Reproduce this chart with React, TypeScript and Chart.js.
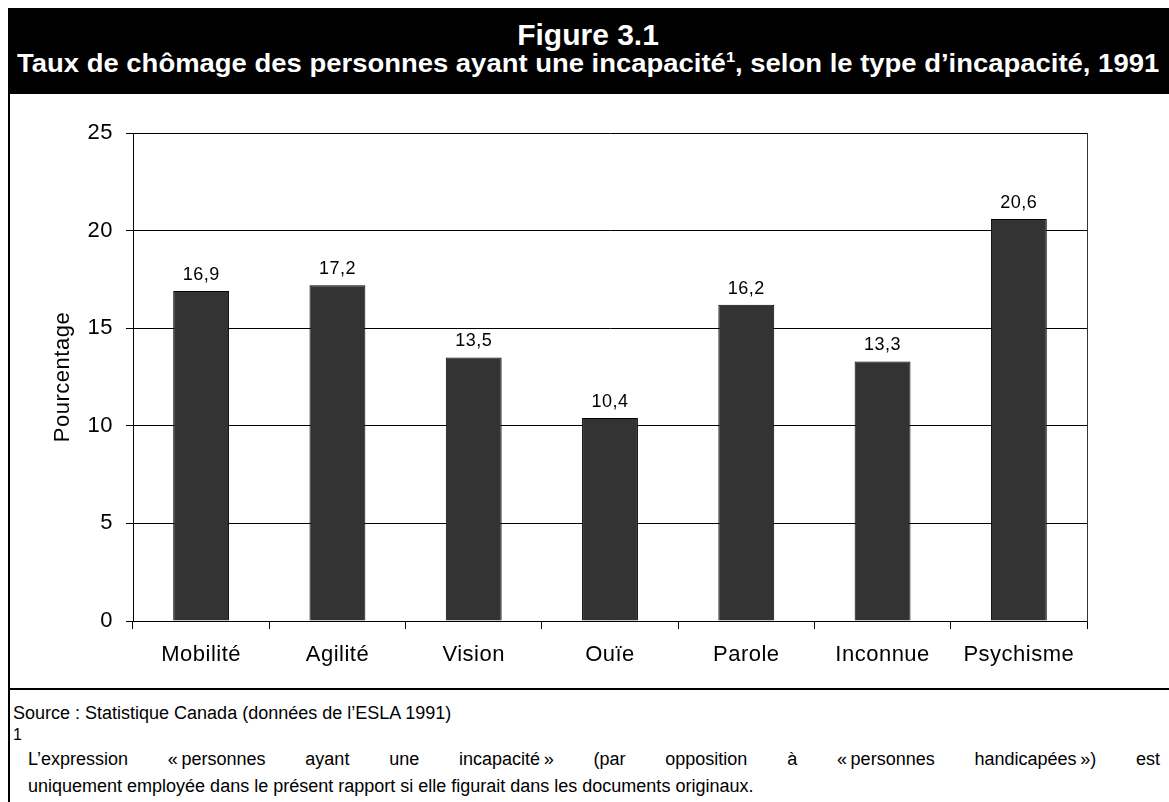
import React, { useEffect, useRef } from 'react';
import { Chart, registerables } from 'chart.js';

Chart.register(...registerables);

// ---- data ----
const categories = ['Mobilité', 'Agilité', 'Vision', 'Ouïe', 'Parole', 'Inconnue', 'Psychisme'];
const rates = [16.9, 17.2, 13.5, 10.4, 16.2, 13.3, 20.6];
const yTicks = [0, 5, 10, 15, 20, 25];
const yAxisTitle = 'Pourcentage';
const figureNumber = 'Figure 3.1';
const titleBefore = 'Taux de chômage des personnes ayant une incapacité';
const titleAfter = ', selon le type d’incapacité, 1991';
const sourceText = 'Source : Statistique Canada (données de l’ESLA 1991)';
const noteLine1 = 'L’expression «\u202Fpersonnes ayant une incapacité\u202F» (par opposition à «\u202Fpersonnes handicapées\u202F») est';
const noteLine2 = 'uniquement employée dans le présent rapport si elle figurait dans les documents originaux.';

const FONT = '"Liberation Sans", Arial, Helvetica, sans-serif';

export default function App() {
  const ref = useRef<HTMLCanvasElement>(null);

  useEffect(() => {
    const canvas = ref.current!;
    const spacing = {
      id: 'spacing',
      beforeUpdate(chart: any) { chart.ctx.letterSpacing = '0.5px'; },
      beforeDraw(chart: any) { chart.ctx.letterSpacing = '0.5px'; },
    };
    const valueLabels = {
      id: 'valueLabels',
      afterDatasetsDraw(chart: any) {
        const ctx = chart.ctx;
        const meta = chart.getDatasetMeta(0);
        ctx.save();
        ctx.font = `18px ${FONT}`;
        ctx.fillStyle = '#000';
        ctx.textAlign = 'center';
        ctx.textBaseline = 'alphabetic';
        meta.data.forEach((el: any, i: number) => {
          ctx.fillText(rates[i].toFixed(1).replace('.', ','), el.x, el.y - 11);
        });
        ctx.restore();
      },
    };
    const chart = new Chart(canvas, {
      type: 'bar',
      data: {
        labels: categories,
        datasets: [
          {
            data: rates,
            backgroundColor: '#333333',
            borderColor: '#000000',
            borderWidth: 1,
            barPercentage: 0.41,
            categoryPercentage: 1,
          },
        ],
      },
      options: {
        animation: false,
        responsive: false,
        maintainAspectRatio: false,
        layout: { padding: { top: 39, right: 82, left: 0, bottom: 0 } },
        plugins: {
          legend: { display: false },
          tooltip: { enabled: false },
          title: { display: false },
        },
        scales: {
          x: {
            offset: true,
            grid: { display: true, drawOnChartArea: false, drawTicks: true, tickLength: 8, color: '#000', offset: true },
            border: { color: '#000', width: 1 },
            ticks: { color: '#000', font: { family: FONT, size: 22 }, padding: 13, maxRotation: 0, autoSkip: false },
            afterFit: (s: any) => { s.height = 67; },
          },
          y: {
            min: 0,
            max: 25,
            afterBuildTicks: (s: any) => { s.ticks = yTicks.map((v) => ({ value: v })); },
            ticks: { color: '#000', font: { family: FONT, size: 22 }, padding: 13 },
            grid: { color: '#000', tickLength: 7, lineWidth: 1 },
            border: { color: '#000', width: 1 },
            title: {
              display: true,
              text: yAxisTitle,
              color: '#000',
              font: { family: FONT, size: 22 },
              padding: { top: 40, bottom: 0 },
            },
            afterFit: (s: any) => { s.width = 123; },
          },
          y2: {
            position: 'right',
            min: 0,
            max: 25,
            grid: { display: false },
            ticks: { display: false },
            border: { display: true, color: '#333', width: 1 },
            afterFit: (s: any) => { s.width = 0; },
          },
        },
      } as any,
      plugins: [spacing, valueLabels],
    });
    return () => chart.destroy();
  }, []);

  const abs = (o: React.CSSProperties): React.CSSProperties => ({ position: 'absolute', ...o });

  return (
    <div style={{ position: 'fixed', inset: 0, overflow: 'hidden', background: '#fff', fontFamily: FONT, color: '#000' }}>
      {/* header */}
      <div style={abs({ left: 8, top: 8, width: 1175, height: 86, background: '#000' })} />
      <div style={abs({ left: 10, top: 18, width: 1156, textAlign: 'center', color: '#fff', fontWeight: 'bold', fontSize: 30, lineHeight: '34px', whiteSpace: 'nowrap' })}>
        {figureNumber}
      </div>
      <div style={abs({ left: 10, top: 48, width: 1156, textAlign: 'center', color: '#fff', fontWeight: 'bold', fontSize: 25, lineHeight: '30px', whiteSpace: 'nowrap' })}>
        <span style={{ display: 'inline-block', transform: 'scaleX(1.098)', transformOrigin: 'center' }}>
          {titleBefore}
          <span style={{ fontSize: 15, position: 'relative', top: -10 }}>1</span>
          {titleAfter}
        </span>
      </div>
      {/* left border */}
      <div style={abs({ left: 8, top: 8, width: 2, height: 800, background: '#000' })} />
      {/* chart */}
      <canvas ref={ref} width={1159} height={594} style={abs({ left: 10, top: 94, width: 1159, height: 594 })} />
      {/* separator */}
      <div style={abs({ left: 8, top: 688, width: 1175, height: 2, background: '#000' })} />
      {/* footer */}
      <div style={abs({ left: 13, top: 700, fontSize: 18, lineHeight: '27px', whiteSpace: 'nowrap' })}>{sourceText}</div>
      <div style={abs({ left: 13, top: 726, fontSize: 16, lineHeight: '18px' })}>1</div>
      <div style={abs({ left: 28, top: 746, width: 1132, fontSize: 18, lineHeight: '27px', textAlign: 'justify', textAlignLast: 'justify' } as React.CSSProperties)}>
        {noteLine1}
      </div>
      <div style={abs({ left: 28, top: 773, width: 1132, fontSize: 18, lineHeight: '27px', whiteSpace: 'nowrap' })}>{noteLine2}</div>
    </div>
  );
}
